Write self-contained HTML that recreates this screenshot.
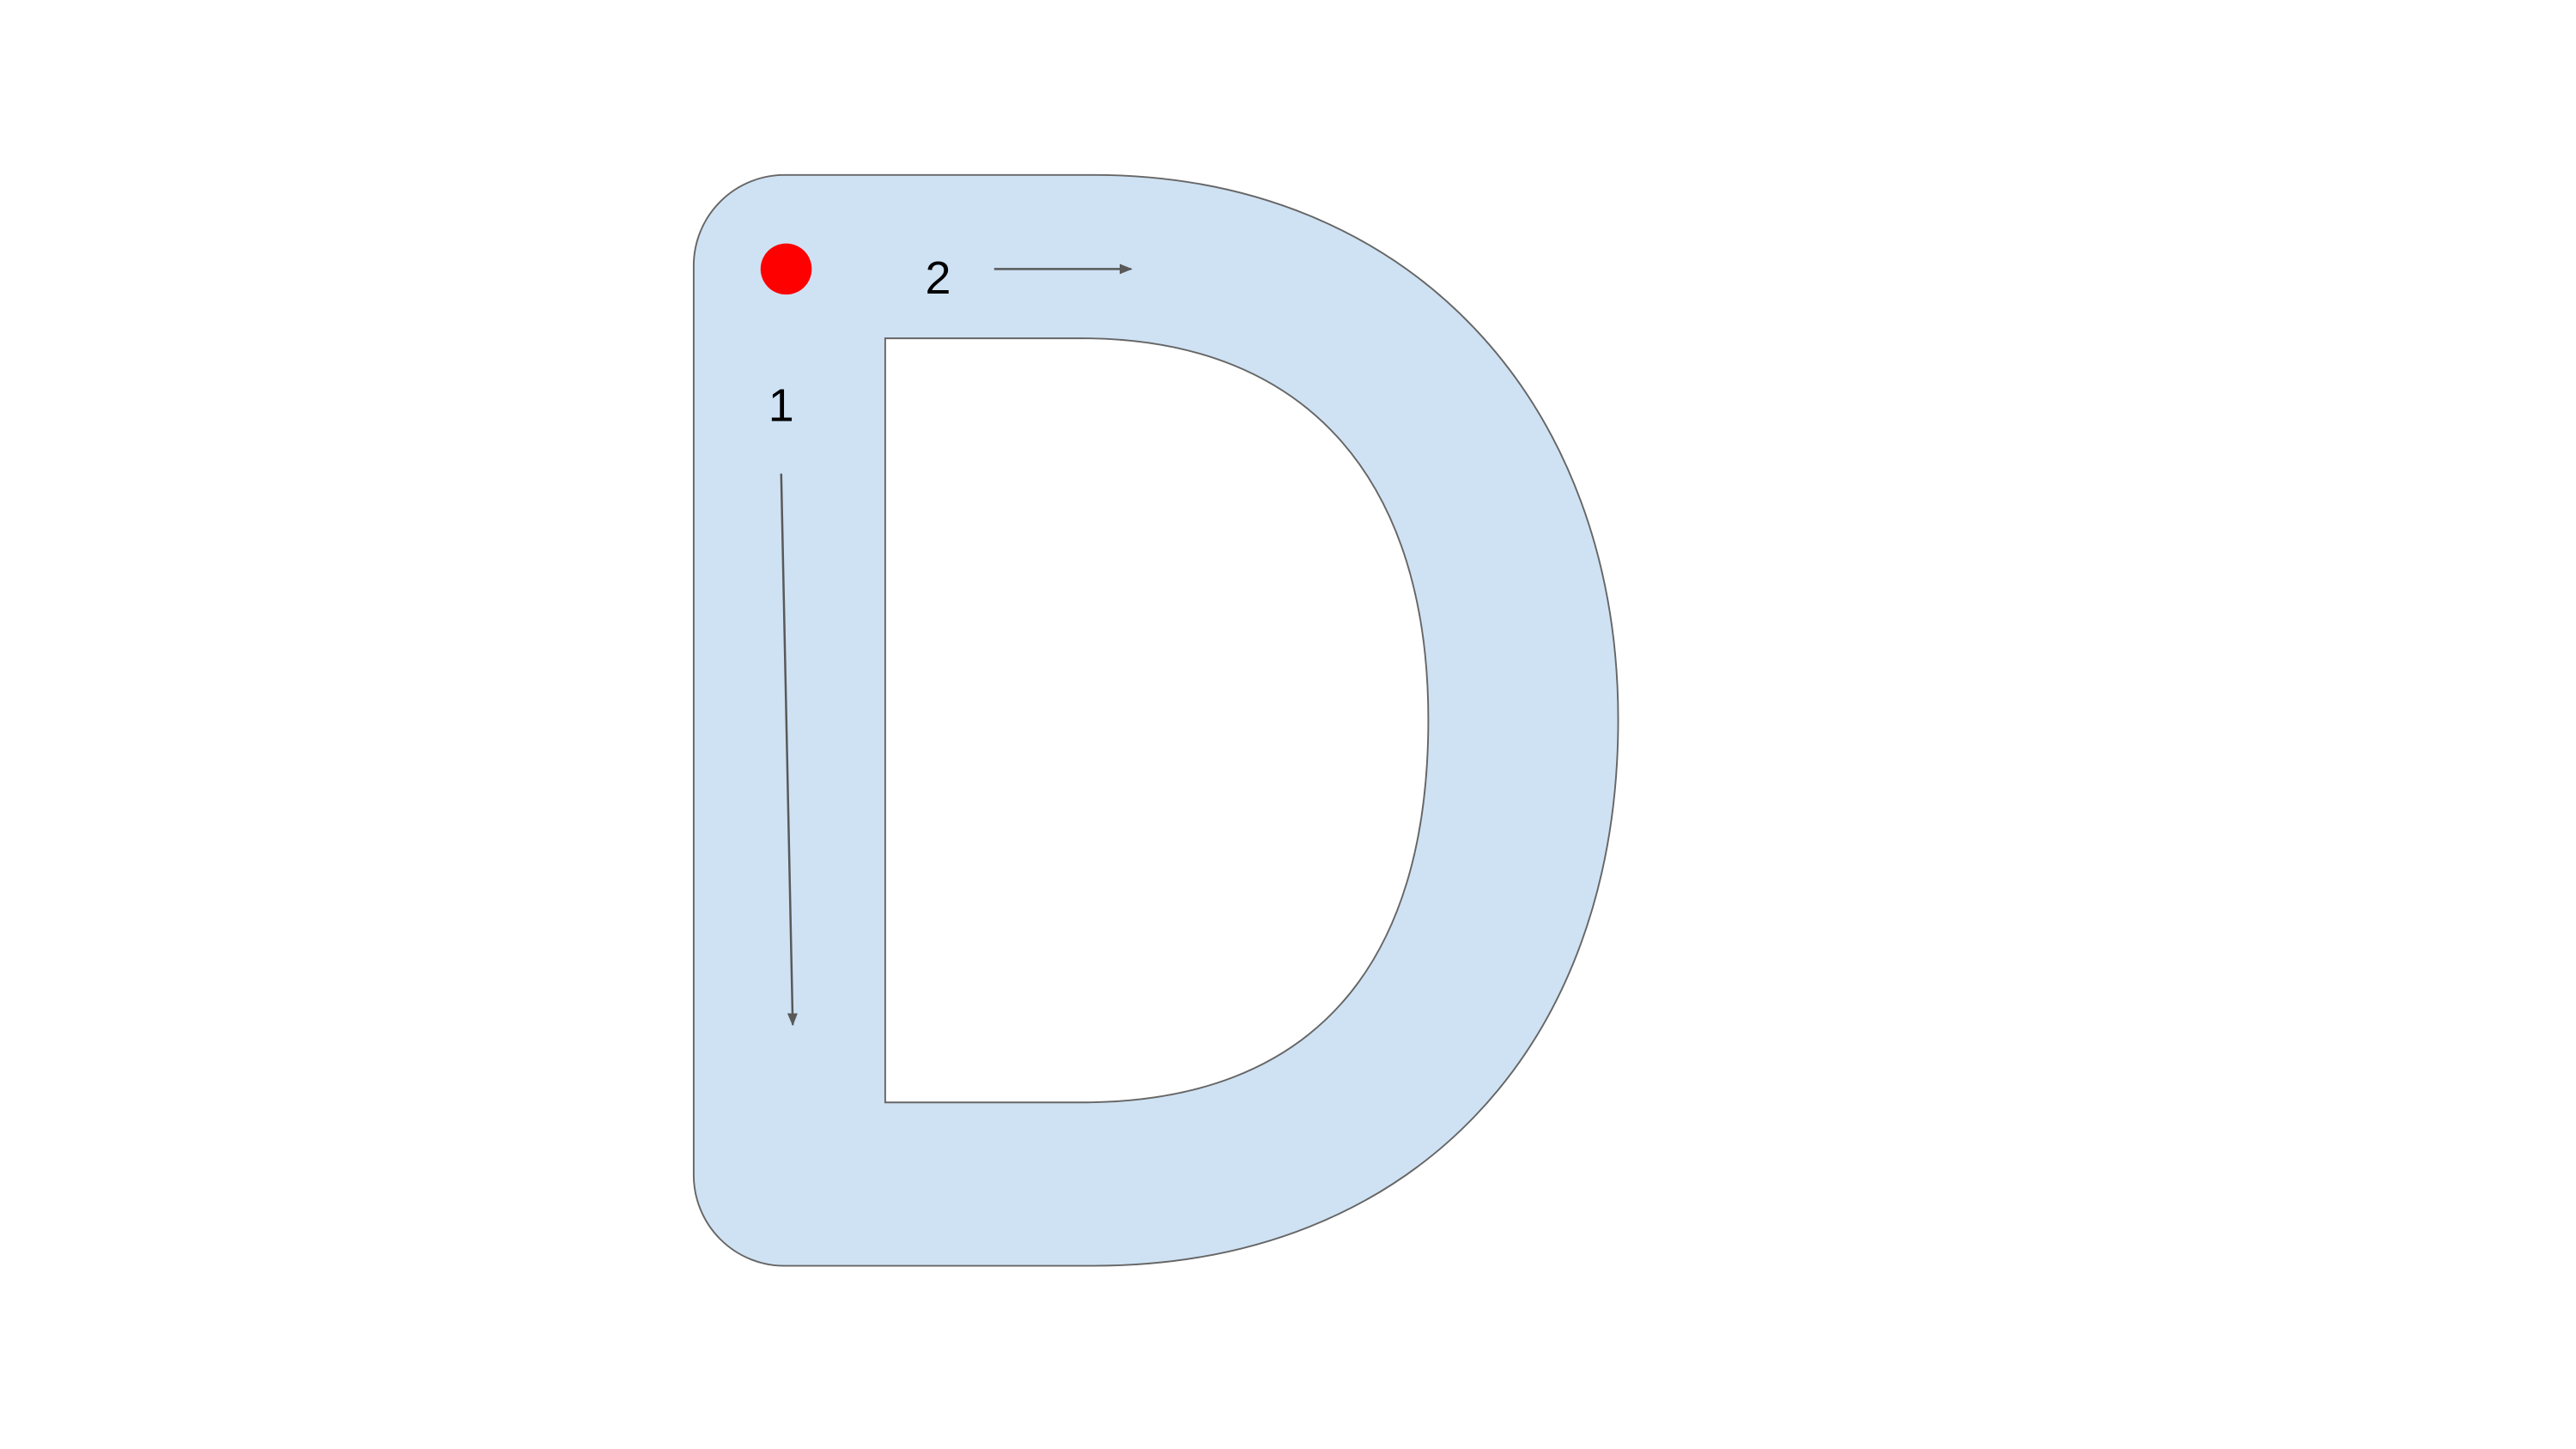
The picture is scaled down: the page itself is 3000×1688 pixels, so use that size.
<!DOCTYPE html>
<html>
<head>
<meta charset="utf-8">
<style>
  html,body{margin:0;padding:0;background:#ffffff;}
  svg{display:block;}
</style>
</head>
<body>
<svg width="3000" height="1688" viewBox="0 0 1560 878" xmlns="http://www.w3.org/2000/svg">
  <defs>
    <marker id="ah" viewBox="0 0 10 10" refX="9" refY="5" markerWidth="6" markerHeight="6" orient="auto">
      <path d="M0,1 L10,5 L0,9 Z" fill="#595959"/>
    </marker>
  </defs>
  <rect x="0" y="0" width="1560" height="878" fill="#ffffff"/>
  <path fill-rule="evenodd" fill="#cfe2f3" stroke="#666666" stroke-width="1"
    d="M 475 106 L 662 106 C 855 106 980 245 980 436 C 980 635 855 767 662 767 L 475 767 A 55 55 0 0 1 420 712 L 420 161 A 55 55 0 0 1 475 106 Z
       M 536 205 L 655 205 C 795 205 865 295 865 436 C 865 585 795 668 655 668 L 536 668 Z"/>
  <circle cx="476" cy="163" r="15.5" fill="#ff0000"/>
  <text x="568" y="178" font-family="Liberation Sans, sans-serif" font-size="28" text-anchor="middle" fill="#000">2</text>
  <line x1="602" y1="163" x2="685" y2="163" stroke="#595959" stroke-width="1.3" marker-end="url(#ah)"/>
  <text x="473" y="255" font-family="Liberation Sans, sans-serif" font-size="28" text-anchor="middle" fill="#000">1</text>
  <line x1="473" y1="287" x2="480" y2="621" stroke="#595959" stroke-width="1.3" marker-end="url(#ah)"/>
</svg>
</body>
</html>
